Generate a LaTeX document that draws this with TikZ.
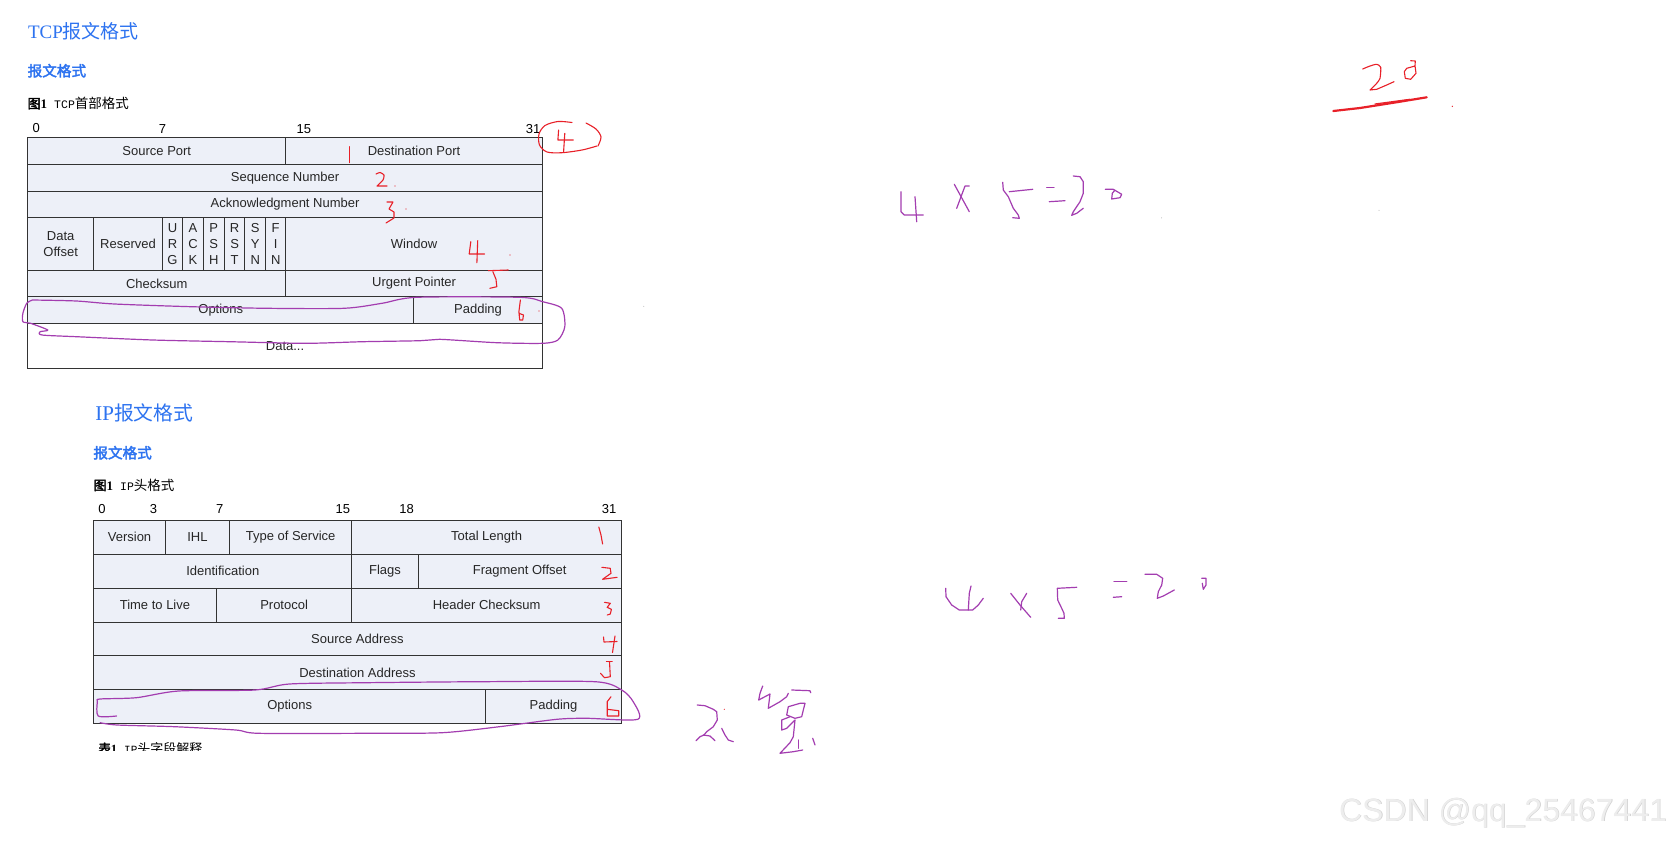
\documentclass[tikz,border=0pt]{standalone}
\usepackage{fontspec}
\setmainfont{Liberation Serif}
\newfontfamily\arialf{Liberation Sans}
\newfontfamily\monof{Liberation Mono}
\newfontfamily\cjkf[AutoFakeBold=2.5]{Noto Sans CJK SC}
\definecolor{cellbg}{RGB}{237,240,248}
\definecolor{headblue}{RGB}{45,115,240}
\definecolor{hred}{RGB}{232,32,40}
\definecolor{hpurple}{RGB}{163,61,176}
\newcommand\fld[6]{\node[cell, minimum width={(#4-#2)*1pt}, minimum height={(#5-#3)*1pt}, anchor=north west] (#1) at (#2,#3) {#6};}
\begin{document}
\begin{tikzpicture}[x=1pt,y=-1pt,
  cell/.style={draw=black!80, fill=cellbg, line width=0.9pt, inner sep=0pt, outer sep=0pt, align=center,
    font=\arialf\fontsize{13}{16}\selectfont, text=black!85},
  bitlbl/.style={inner sep=0pt, font=\arialf\fontsize{13}{15}\selectfont, text=black},
  title/.style={inner sep=0pt, anchor=west, text=headblue},
  capt/.style={inner sep=0pt, anchor=west, text=black},
  hr/.style={draw=hred, line width=1.1pt, line join=round, line cap=round},
  hp/.style={draw=hpurple, line width=1.2pt, line join=round, line cap=round},
]
\useasboundingbox[fill=white] (0,0) rectangle (1674,841);

% ---------------- TCP -----------------
\node[title] (tcptitle) at (27.8,31.5) {{\rmfamily\fontsize{19}{21}\selectfont TCP}{\cjkf\fontsize{19}{21}\selectfont 报文格式}};
\node[title] (tcpsub) at (27.5,70.7) {\cjkf\bfseries\fontsize{14.6}{16}\selectfont 报文格式};
\node[capt] (tcpcap) at (27.5,103.3) {{\cjkf\bfseries\fontsize{13}{14}\selectfont 图}{\rmfamily\bfseries\fontsize{13}{14}\selectfont 1}\hspace{7pt}{\monof\fontsize{11.5}{12}\selectfont TCP}{\cjkf\fontsize{13.5}{14}\selectfont 首部格式}};

\node[bitlbl] (tb0) at (36.3,128.3) {0};
\node[bitlbl] (tb7) at (162.4,128.8) {7};
\node[bitlbl] (tb15) at (303.8,128.8) {15};
\node[bitlbl] (tb31) at (533,128.8) {31};

\fld{srcport}{27.8}{137.7}{285.8}{164.4}{Source Port}
\fld{dstport}{285.8}{137.7}{542.3}{164.4}{Destination Port}
\fld{seq}{27.8}{164.4}{542.3}{191.1}{Sequence Number}
\fld{ack}{27.8}{191.1}{542.3}{217.8}{Acknowledgment Number}
\fld{doff}{27.8}{217.8}{93.6}{270.1}{Data\\Offset}
\fld{resv}{93.6}{217.8}{162.4}{270.1}{Reserved}
\fld{urg}{162.4}{217.8}{182.7}{270.1}{U\\R\\G}
\fld{ackf}{182.7}{217.8}{203.3}{270.1}{A\\C\\K}
\fld{psh}{203.3}{217.8}{224.3}{270.1}{P\\S\\H}
\fld{rst}{224.3}{217.8}{244.9}{270.1}{R\\S\\T}
\fld{syn}{244.9}{217.8}{265.6}{270.1}{S\\Y\\N}
\fld{fin}{265.6}{217.8}{285.8}{270.1}{F\\I\\N}
\fld{window}{285.8}{217.8}{542.3}{270.1}{Window}
\fld{cksum}{27.8}{270.1}{285.8}{296.8}{Checksum}
\fld{urgptr}{285.8}{270.1}{542.3}{296.8}{Urgent Pointer}
\fld{tcpopt}{27.8}{296.8}{413.8}{323.5}{Options}
\fld{tcppad}{413.8}{296.8}{542.3}{323.5}{Padding}
\node[cell, fill=white, minimum width={(542.3-27.8)*1pt}, minimum height={(368.3-323.5)*1pt}, anchor=north west] (tcpdata) at (27.8,323.5) {Data...};

% ---------------- IP -----------------
\node[title] (iptitle) at (95.2,413.3) {{\rmfamily\fontsize{21}{23}\selectfont IP}{\cjkf\fontsize{19.8}{22}\selectfont 报文格式}};
\node[title] (ipsub) at (93.2,452.7) {\cjkf\bfseries\fontsize{14.6}{16}\selectfont 报文格式};
\node[capt] (ipcap) at (93.4,485) {{\cjkf\bfseries\fontsize{13}{14}\selectfont 图}{\rmfamily\bfseries\fontsize{13}{14}\selectfont 1}\hspace{7pt}{\monof\fontsize{11.5}{12}\selectfont IP}{\cjkf\fontsize{13.5}{14}\selectfont 头格式}};

\node[bitlbl] (ib0) at (102,509) {0};
\node[bitlbl] (ib3) at (153.6,509) {3};
\node[bitlbl] (ib7) at (219.7,509) {7};
\node[bitlbl] (ib15) at (342.8,509) {15};
\node[bitlbl] (ib18) at (406.6,509) {18};
\node[bitlbl] (ib31) at (609.1,509) {31};

\fld{ver}{93.6}{520}{165.5}{554}{Version}
\fld{ihl}{165.5}{520}{229.3}{554}{IHL}
\fld{tos}{229.3}{520}{351.9}{554}{Type of Service}
\fld{totlen}{351.9}{520}{621.3}{554}{Total Length}
\fld{ident}{93.6}{554}{351.9}{588}{Identification}
\fld{flags}{351.9}{554}{418}{588}{Flags}
\fld{fragoff}{418}{554}{621.3}{588}{Fragment Offset}
\fld{ttl}{93.6}{588}{216.3}{622}{Time to Live}
\fld{proto}{216.3}{588}{351.9}{622}{Protocol}
\fld{hdrck}{351.9}{588}{621.3}{622}{Header Checksum}
\fld{srcaddr}{93.6}{622}{621.3}{655.5}{Source Address}
\fld{dstaddr}{93.6}{655.5}{621.3}{689.5}{Destination Address}
\fld{ipopt}{93.6}{689.5}{485.7}{723}{Options}
\fld{ippad}{485.7}{689.5}{621.3}{723}{Padding}

\node[capt, anchor=north west] (tab1) at (98.2,742) {{\cjkf\bfseries\fontsize{12.5}{14}\selectfont 表}{\rmfamily\bfseries\fontsize{12.5}{14}\selectfont 1}\hspace{7pt}{\monof\fontsize{11}{12}\selectfont IP}{\cjkf\fontsize{13}{14}\selectfont 头字段解释}};
\fill[white] (90,750.8) rectangle (260,770);

% ---------------- red notes TCP -----------------
\draw[hr] plot[smooth, tension=0.5] coordinates {(572,122.5) (558,121.5) (545,125.5) (539,134) (539.5,145) (547,152) (562,152.7) (582,150) (597,146)};
\draw[hr] plot[smooth, tension=0.5] coordinates {(586,123) (596,129) (601,137) (598,146)};
\draw[hr] (558.6,130) -- (557.9,140) -- (573.2,140);
\draw[hr] (564.8,133.3) -- (563.6,151.7);
\draw[hr] (349.6,146.7) -- (349.6,162.7);
\draw[hr] plot[smooth, tension=0.4] coordinates {(376,174) (380,172.5) (384,175) (383,180) (377,186)} -- (387,186);
\fill[hred] (395,186) circle[radius=0.7pt];
\draw[hr] (387,202) -- (393,202) -- (389,209) -- (394,212) -- (394,218) -- (386,223);
\fill[hred] (406,209) circle[radius=0.7pt];
\draw[hr] (470.8,241.7) -- (469.2,254) -- (484.5,254);
\draw[hr] (477.7,240.7) -- (476.9,262.7);
\fill[hred] (510,255) circle[radius=0.7pt];
\draw[hr] (488.3,270.7) -- (508.2,270);
\draw[hr] (492.9,271.7) -- (496,279.3) -- (496.8,286.7) -- (489.9,288.3);
\draw[hr] (520.4,300) -- (518.9,311.7) -- (519.7,320) -- (522.7,320) -- (523.5,315) -- (518.9,313.3);
\fill[hred] (539,311) circle[radius=0.6pt];

% purple loop TCP
\draw[hp] plot[smooth, tension=0.45] coordinates {(32.5,300) (76.4,301) (114.6,304) (191,306.7) (267.5,308.3) (344,308.3) (382,303.3) (416.5,297.3) (519.7,297.3) (542.6,301.7) (561.7,308.3) (564.8,326.7) (557.9,340) (542.6,343.3) (496.8,342.7) (439.4,339.3) (420.3,340.7) (363,341.7) (305.7,343.3) (229.3,341.7) (152.8,340) (76.4,336.7) (42,335) (40.1,331.7) (47.8,330) (30.6,323.3) (22.9,321.7) (22.9,313.3) (26.7,303.3) (32.5,300)};

% ---------------- red notes IP -----------------
\draw[hr] (598.8,527) -- (601,535) -- (602.6,544);
\draw[hr] (601.8,567.3) -- (610.2,568.3) -- (611,573.3) -- (602.6,579.3) -- (617.1,577.3);
\draw[hr] (604.5,602.3) -- (610.3,603.3) -- (607.2,607.3) -- (611.4,609.3) -- (610.3,614) -- (607.2,615);
\draw[hr] (603.5,637) -- (604,642) -- (617,641.5);
\draw[hr] (615,636) -- (612.5,652.5);
\draw[hr] (606.4,661.7) -- (612.2,661.7);
\draw[hr] (609.5,661.7) -- (610.3,676.7) -- (604.5,677.7) -- (600.5,673.3);
\draw[hr] (611,696.7) -- (607.2,701.7) -- (607.2,716) -- (618.7,716) -- (618.7,710.7) -- (607.2,709.3);

% purple loop IP
\draw[hp] plot[smooth, tension=0.45] coordinates {(116.6,716) (98.2,716) (97.4,701.7) (100.1,699) (136.4,697.7) (178.5,691) (254.9,690) (289.3,684) (365.7,682.7) (480.3,681.7) (595,681.7) (621.7,690) (633.2,701.7) (637.8,719.3) (587.3,718.3) (556.8,719.3) (499.4,726.7) (442.1,732.7) (365.7,733.3) (258.7,733.3) (235.8,730) (174.6,726.7) (117.3,725) (100.1,722.7)};

% ---------------- right side notes -----------------
% 4 x 5 = 2 0 (upper)
\draw[hp] (901,191.7) -- (901,211.7) -- (904.3,215) -- (923.3,215);
\draw[hp] (915,196.7) -- (916.7,221.7);
\draw[hp] (954.3,184.3) -- (969.3,211.7);
\draw[hp] (969.3,186) -- (965,186) -- (956.7,208.3);
\draw[hp] (1009.3,191.7) -- (1032.7,189.3);
\draw[hp] (1002.7,182.3) -- (1003.3,190) -- (1008.3,196.7) -- (1013.3,208.3) -- (1018.3,215) -- (1019.3,218.3) -- (1012.7,217.7);
\draw[hp] (1046.7,187.3) -- (1054,187.3);
\draw[hp] (1049.3,201.7) -- (1065,200.7);
\draw[hp] (1073.3,176) -- (1080,176.7) -- (1083.3,181.7) -- (1083.3,193.3) -- (1080,201.7) -- (1073.3,211.7) -- (1071.7,215.3) -- (1076.7,213.3) -- (1083.3,208.3);
\draw[hp] (1105.3,189.3) -- (1113.3,189.3) -- (1121.7,194.3) -- (1120,197.7) -- (1111.7,199) -- (1112.3,193.3) -- (1115,190);

% 20 underlined
\draw[hr] plot[smooth, tension=0.4] coordinates {(1362.7,69) (1370,66) (1376.7,64.3) (1380.7,67.3) (1380,78.3) (1376.7,83.3) (1370,90)} -- (1376.7,89.3) -- (1386.7,85) -- (1394,81.7);
\draw[hr] (1410.7,60.7) -- (1415.3,61) -- (1415,65.7) -- (1416,73.3) -- (1410.7,79.3) -- (1405.3,78.3) -- (1404.3,71.7) -- (1406.7,68.3) -- (1415,66);
\draw[hr, line width=2.2pt] (1333.3,111) -- (1360,108) -- (1395,102.5) -- (1426.7,97.3);
\draw[hr, line width=1.2pt] (1375,104) -- (1410,99.3);
\fill[hred] (1452.3,106.3) circle[radius=0.7pt];

% 4 x 5 = 2 0 (lower)
\draw[hp] (945.7,588.3) -- (946,596.7) -- (951.7,605) -- (959.3,610) -- (972.7,610) -- (978.3,605) -- (983.3,598.3);
\draw[hp] (971,586) -- (969.3,593.3) -- (968.3,610);
\draw[hp] (1010.7,593.3) -- (1020,605) -- (1030.7,617.3);
\draw[hp] (1026.7,593.3) -- (1021.7,601.7) -- (1020.7,610);
\draw[hp] (1076.7,587.3) -- (1057.3,588.3) -- (1057.7,600) -- (1061.7,608.3) -- (1064,613.3) -- (1064.3,618.3) -- (1058.3,618.3);
\draw[hp] (1114,581.7) -- (1126.7,581.7);
\draw[hp] (1113.3,597.3) -- (1121.7,596.7);
\draw[hp] (1145,574.3) -- (1156.7,574.3) -- (1162.7,578.3) -- (1161.7,585) -- (1158.3,591.7) -- (1157.3,598.3) -- (1163.3,596) -- (1174.3,590);
\draw[hp] (1201.7,578.3) -- (1206,578.3) -- (1206,585) -- (1203.3,589.3) -- (1202.3,583.3);

% handwritten characters
\draw[hp] (697.3,705) -- (705,705.7) -- (713.3,709.3) -- (716.7,711.7) -- (717.3,720) -- (713.3,726.7) -- (706.7,731.7) -- (704,735) -- (700,736.7) -- (696,740.7);
\draw[hp] (703.3,735) -- (710,736) -- (715,740.7);
\draw[hp] (721.7,728.3) -- (725,735) -- (728.3,740) -- (733.3,741.7);
\fill[hred] (724.3,709.3) circle[radius=0.6pt];
\draw[hp] (762.7,686) -- (760,693.3) -- (758.7,700) -- (770,694) -- (768.3,708.3) -- (780,701.7) -- (786.7,696.7) -- (788.3,693.3);
\draw[hp] (791.7,690) -- (810,690.7) -- (810.7,692.7);
\draw[hp] (805,703.3) -- (803.3,710) -- (801.7,716.7) -- (795,718.3) -- (786.7,715) -- (788.3,706.7) -- (800,703.3) -- (805,703.3);
\draw[hp] (790,716.7) -- (781.7,720) -- (781.7,730) -- (786.7,728.3) -- (795,720) -- (793.3,736.7) -- (790,742.7) -- (780,753.3) -- (793.3,751.7) -- (802.7,750);
\draw[hp] (798.3,740) -- (798.3,748.3);
\draw[hp] (812.7,738.3) -- (815,745);

% stray dots
\fill[gray!60] (1161.5,217.8) circle[radius=0.5pt];
\fill[gray!60] (1379,210.3) circle[radius=0.5pt];
\fill[gray!60] (643.8,306.4) circle[radius=0.5pt];

% watermark
\node[inner sep=0pt, text=gray!40, font=\arialf\fontsize{32}{34}\selectfont] (wmshadow) at (1503.6,813.6) {CSDN @qq\_25467441};
\node[inner sep=0pt, text=gray!14, font=\arialf\fontsize{32}{34}\selectfont] (wm) at (1503,813) {CSDN @qq\_25467441};
\end{tikzpicture}
\end{document}
